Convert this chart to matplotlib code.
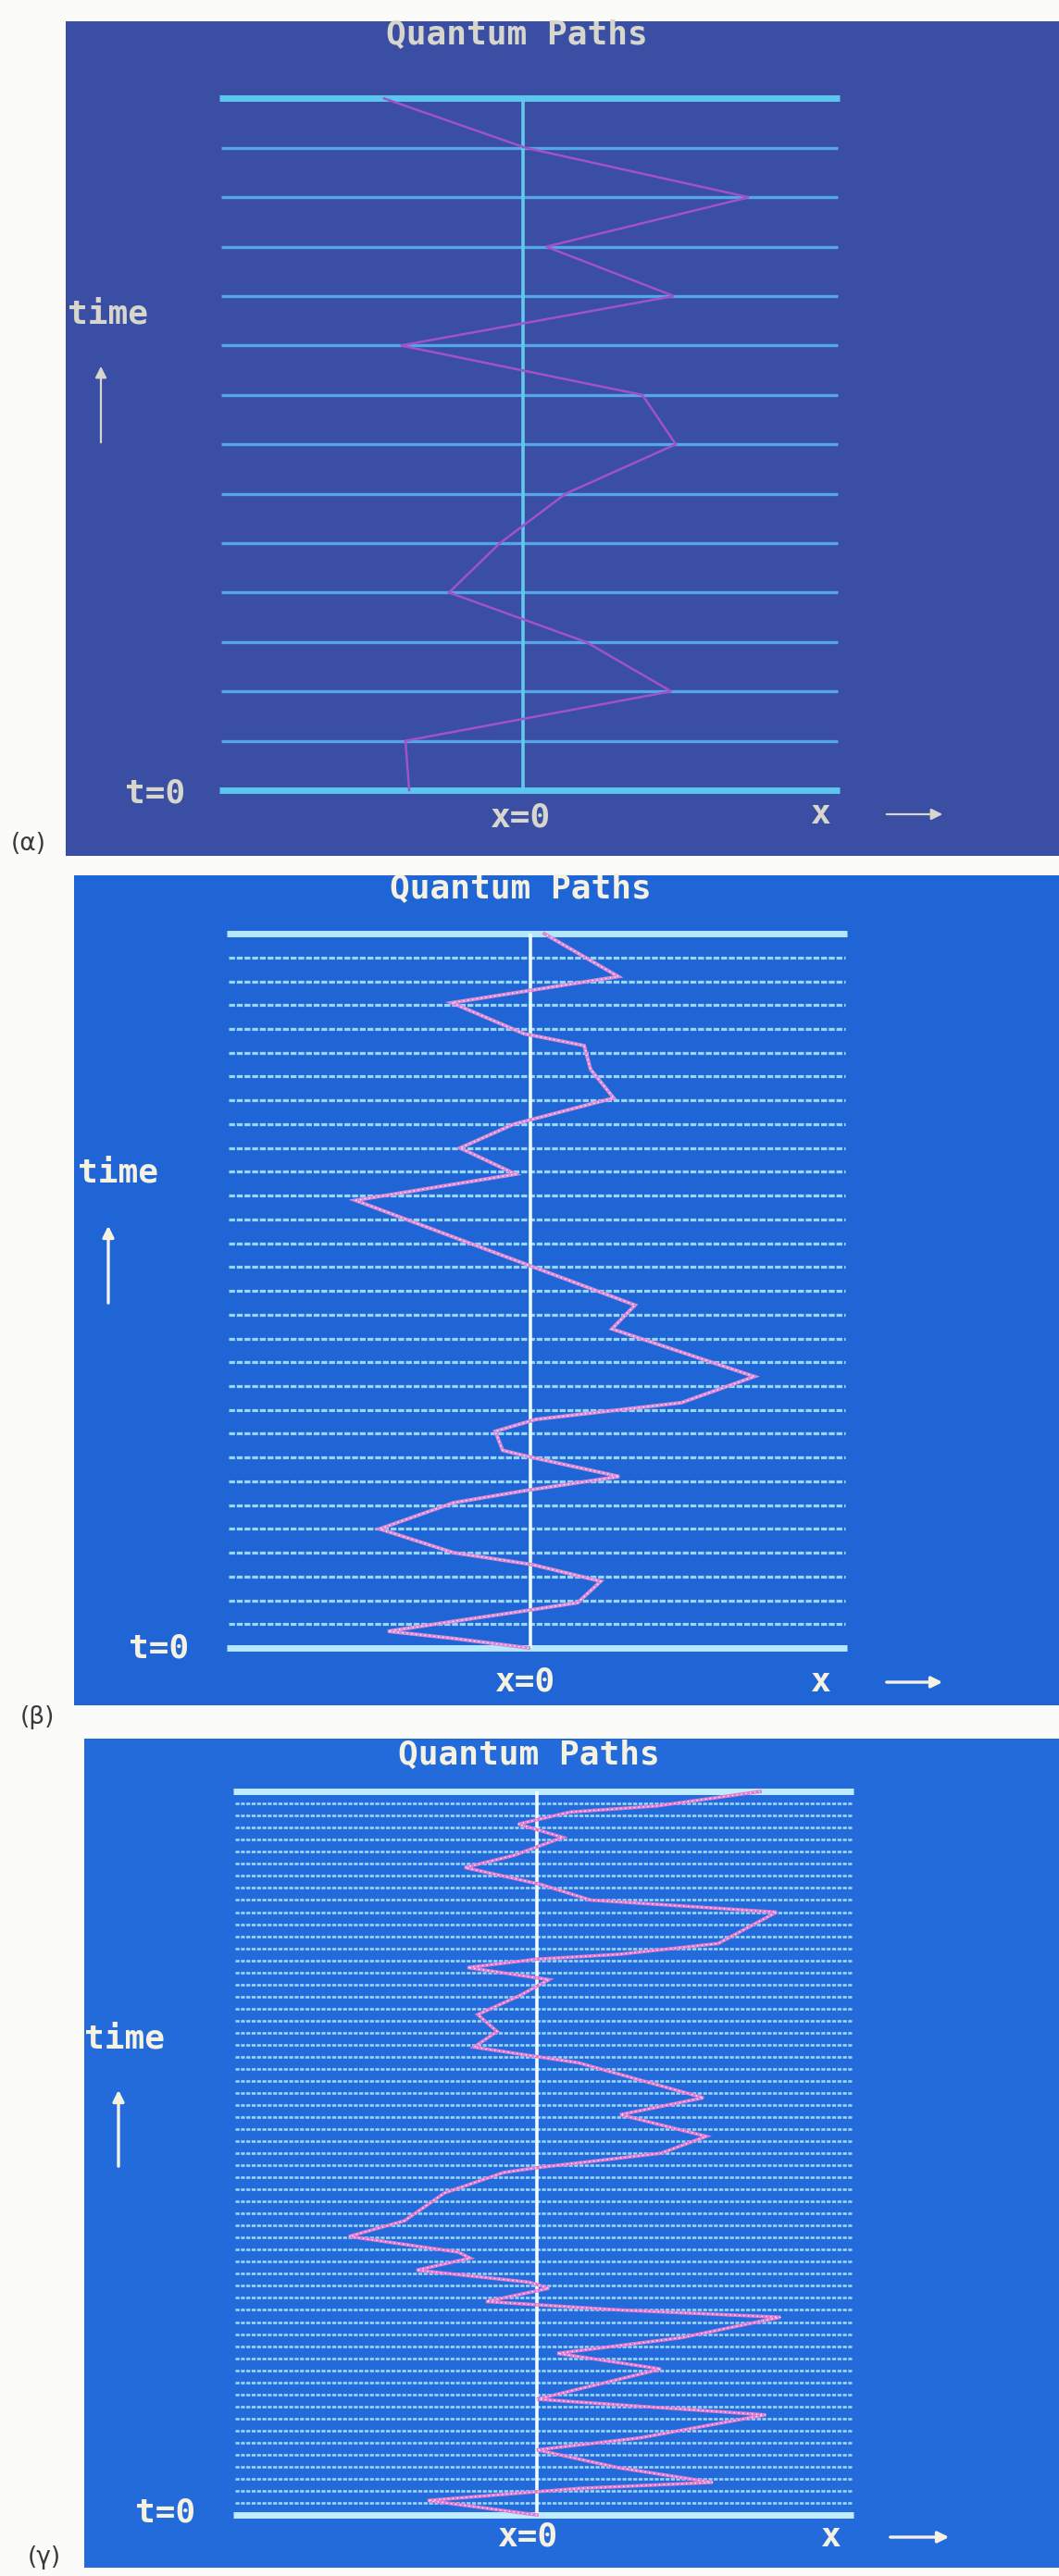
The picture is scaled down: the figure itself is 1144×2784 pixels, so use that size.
import matplotlib
matplotlib.use("Agg")
import matplotlib.pyplot as plt
from matplotlib.patches import FancyArrowPatch

W, H = 1144, 2784

alpha_t = [0, 1, 2, 3, 4, 5, 6, 7, 8, 9, 10, 11, 12, 13, 14]
alpha_x = [-123, -127, 160, 68, -80, -25, 46, 165, 129, -132, 163, 25, 244, 3, -150]

beta_t = [0.0, 0.4, 0.7, 1.2, 1.5, 1.9, 2.8, 3.5, 4.0, 5.0, 6.1, 6.6, 7.2, 8.0, 8.3, 9.1,
          9.6, 10.3, 11.4, 13.4, 14.4, 18.8, 19.9, 21.0, 22.0, 23.1, 24.3, 25.3, 25.8,
          27.1, 28.2, 30.0]
beta_x = [-2, -83, -154, -69, -16, 51, 76, 2, -83, -163, -83, -7, 96, 2, -30, -38,
          6, 163, 242, 88, 113, -189, -16, -76, -18, 90, 65, 58, -7,
          -85, 95, 15]

gamma_t = [0.0, 1.2, 2.2, 2.7, 3.9, 5.4, 6.4, 8.3, 9.6, 12.1, 13.4, 14.7, 16.4, 17.0,
           17.7, 18.8, 19.3, 20.3, 21.3, 21.8, 23.1, 24.4, 26.7, 28.4, 28.8, 30.0,
           31.4, 33.2, 34.6, 37.5, 38.8, 40.1, 41.5, 43.1, 44.4, 45.4, 46.1, 46.5,
           47.4, 48.6, 50.0, 51.0, 52.3, 53.7, 54.7, 56.2, 57.3, 58.3, 58.8, 60.0]
gamma_x = [0, -118, 45, 190, 89, 0, 112, 247, 0, 134, 22, 156, 263, 89,
           -55, 13, -8, -130, -72, -85, -203, -143, -100, -36, 0, 134,
           183, 90, 180, 45, -68, -43, -64, -18, 13, -75, 0, 89,
           196, 225, 259, 58, 4, -78, -25, 28, -20, 36, 129, 241]

slices = [14, 30, 60]
labels = ["(α)", "(β)", "(γ)"]
title = "Quantum Paths"

fig = plt.figure(figsize=(W / 100, H / 100), dpi=100, facecolor="#fbfbf9")


def frac(x, y):
    return x / W, 1 - y / H


def draw_panel(box, cx, yb, step, n, t, x, sty, txt):
    left, top, right, bottom = box
    ax = fig.add_axes([left / W, 1 - bottom / H, (right - left) / W, (bottom - top) / H])
    ax.set_facecolor(sty["bg"])
    ax.set_xlim(left - cx, right - cx)
    ax.set_ylim((yb - bottom) / step, (yb - top) / step)
    ax.set_xticks([])
    ax.set_yticks([])
    for s in ax.spines.values():
        s.set_visible(False)

    ax.hlines(range(1, n), -326, 340, colors=sty["grid"], lw=sty["grid_lw"],
              linestyles=sty["grid_ls"])
    ax.hlines([0, n], -328, 342, colors=sty["edge"], lw=5)
    ax.vlines(0, 0, n, colors=sty["axis"], lw=2.6)
    ax.plot(x, t, color=sty["path"], lw=sty["path_lw"], solid_joinstyle="miter")
    if sty["glow"]:
        ax.plot(x, t, color="white", lw=1.0, ls=(0, (1, 2.5)), alpha=0.85)

    c = sty["text"]
    mono = dict(family="DejaVu Sans Mono", weight="bold", color=c, fontsize=26)
    fig.text(*frac(*txt["title"]), title, ha="center", va="center", **mono)
    fig.text(*frac(*txt["time"]), "time", ha="left", va="center", **mono)
    fig.text(*frac(*txt["t0"]), "t=0", ha="left", va="center", **mono)
    fig.text(*frac(*txt["x0"]), "x=0", ha="center", va="center", **mono)
    fig.text(*frac(*txt["x"]), "x", ha="center", va="center", **mono)
    for a, b in (txt["up"], txt["right"]):
        fig.add_artist(FancyArrowPatch(frac(*a), frac(*b), transform=fig.transFigure,
                                       arrowstyle="-|>", mutation_scale=18,
                                       lw=sty["arrow_lw"], color=c))
    fig.text(*frac(*txt["label"]), txt["name"], ha="left", va="center",
             family="DejaVu Sans", fontsize=19, color="#3a3a3a")


styles = [
    dict(bg="#3a4ea3", grid="#55a6e6", grid_lw=2.4, grid_ls="solid", edge="#5cc6ee",
         axis="#62c8ee", path="#a052cc", path_lw=1.8, glow=False, text="#d6d6cc",
         arrow_lw=1.6),
    dict(bg="#1f65d6", grid="#98d6fb", grid_lw=2.3, grid_ls=(0, (2.0, 0.6)),
         edge="#b5e8ff", axis="#e8faff", path="#d98ad6", path_lw=2.8, glow=True,
         text="#f5f2e2", arrow_lw=2.4),
    dict(bg="#236bdb", grid="#9ad6fa", grid_lw=1.9, grid_ls=(0, (1.6, 0.6)),
         edge="#c0ecff", axis="#eefcff", path="#e07ad0", path_lw=2.6, glow=True,
         text="#f5f2e2", arrow_lw=2.4),
]

texts = [
    dict(title=(558, 37), time=(73, 340), t0=(135, 857), x0=(562, 884), x=(886, 880),
         up=((109, 481), (109, 393)), right=((955, 880), (1021, 880)),
         label=(12, 912), name=labels[0]),
    dict(title=(562, 960), time=(84, 1267), t0=(139, 1781), x0=(567, 1818), x=(886, 1818),
         up=((117, 1411), (117, 1322)), right=((955, 1818), (1021, 1818)),
         label=(22, 1856), name=labels[1]),
    dict(title=(571, 1896), time=(91, 2204), t0=(146, 2715), x0=(570, 2742), x=(897, 2742),
         up=((128, 2344), (128, 2256)), right=((959, 2742), (1028, 2742)),
         label=(30, 2764), name=labels[2]),
]

boxes = [(71, 23, 1144, 925), (80, 946, 1144, 1843), (91, 1879, 1144, 2775)]
centres = [565, 573, 580]
bottoms = [854, 1781, 2718]
steps = [53.4, 25.73, 13.03]
paths = [(alpha_t, alpha_x), (beta_t, beta_x), (gamma_t, gamma_x)]

for i in range(3):
    draw_panel(boxes[i], centres[i], bottoms[i], steps[i], slices[i],
               paths[i][0], paths[i][1], styles[i], texts[i])

fig.savefig("out.png", dpi=100, facecolor=fig.get_facecolor())
